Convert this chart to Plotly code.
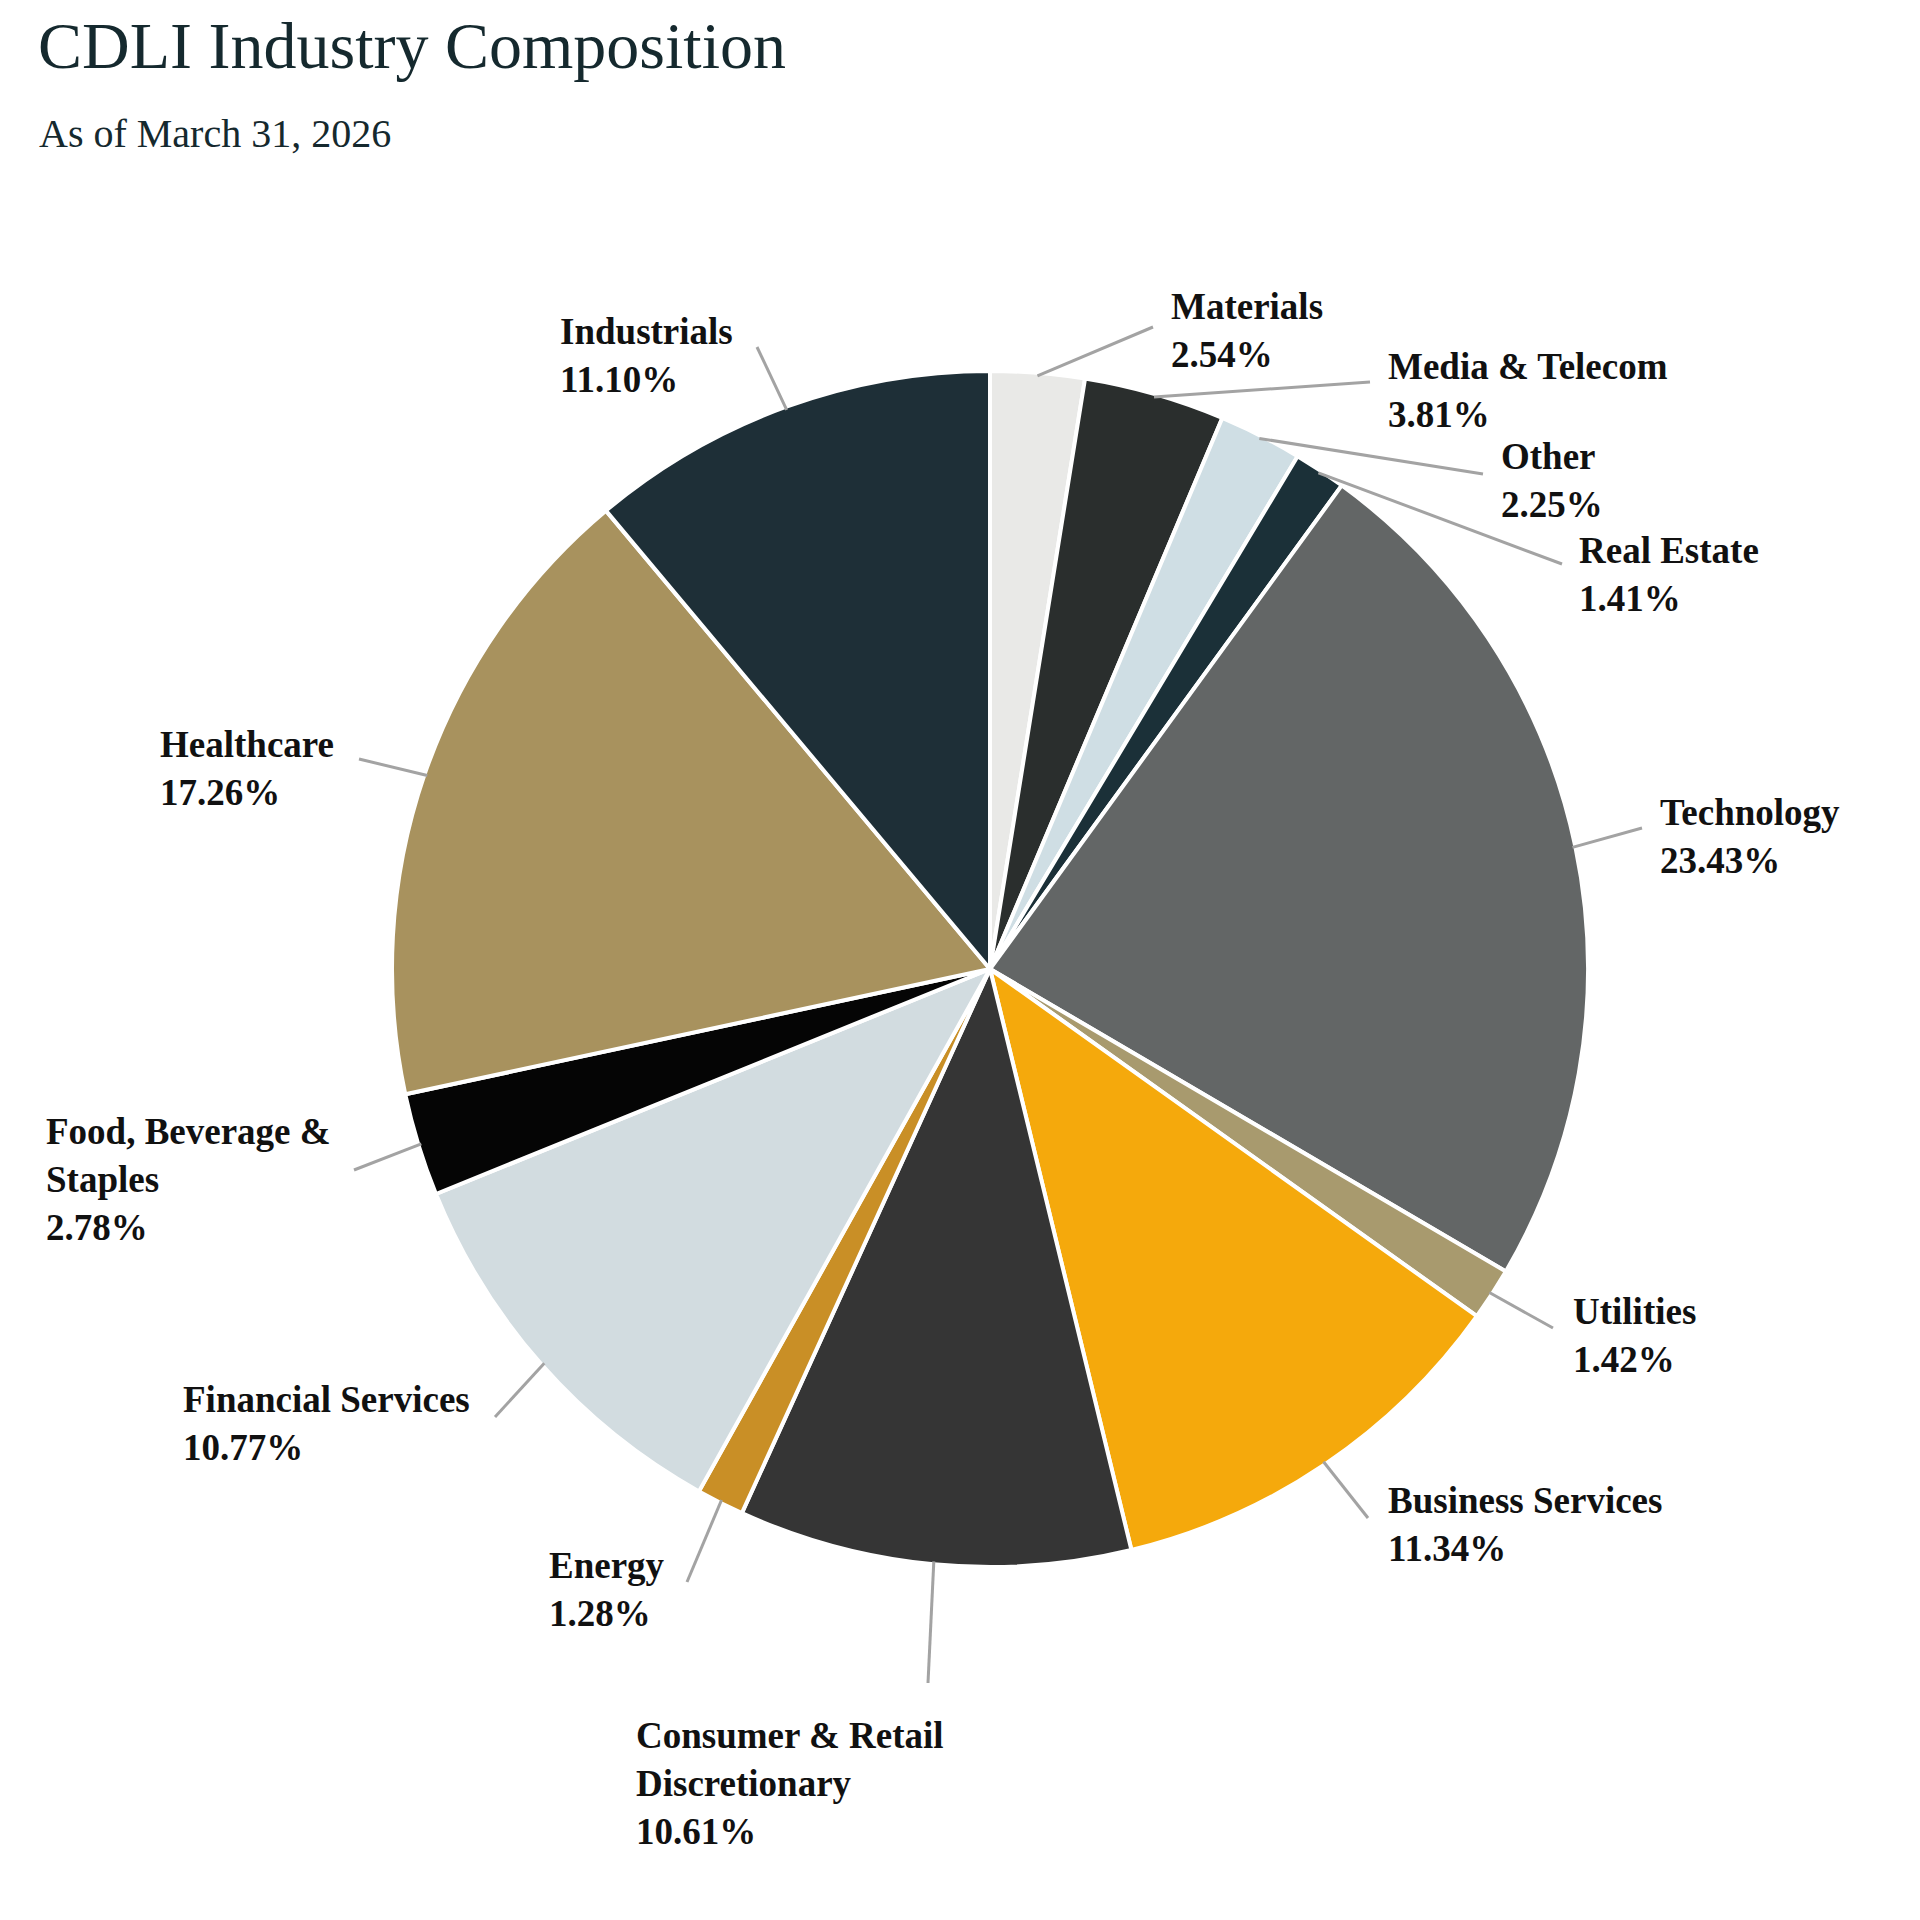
import math
import plotly.graph_objects as go

# ---------------- data ----------------
categories = ["Materials", "Media & Telecom", "Other", "Real Estate", "Technology",
              "Utilities", "Business Services", "Consumer & Retail Discretionary",
              "Energy", "Financial Services", "Food, Beverage & Staples",
              "Healthcare", "Industrials"]
values = [2.54, 3.81, 2.25, 1.41, 23.43, 1.42, 11.34, 10.61, 1.28, 10.77, 2.78, 17.26, 11.10]
display_names = ["Materials", "Media & Telecom", "Other", "Real Estate", "Technology",
                 "Utilities", "Business Services", "Consumer & Retail<br>Discretionary",
                 "Energy", "Financial Services", "Food, Beverage &<br>Staples",
                 "Healthcare", "Industrials"]
colors = ["#e9e9e7", "#2a2e2d", "#cfdee4", "#1b3038", "#636666",
          "#a89a6e", "#f5a90c", "#353535", "#c98f26", "#d2dce0",
          "#050505", "#a8925e", "#1e2f37"]

title_text = "CDLI Industry Composition"
subtitle_text = "As of March 31, 2026"

# ---------------- layout (pixels in a 1920x1920 page) ----------------
W = H = 1920
PIE_CX, PIE_CY, PIE_R = 990, 969, 598

# label text anchor (left x, vertical centre of block) and leader-line end, per category
label_pos = {
    "Materials": (1169, 330, 1153, 327),
    "Media & Telecom": (1386, 391, 1370, 382),
    "Other": (1499, 480, 1483, 474),
    "Real Estate": (1577, 574, 1562, 564),
    "Technology": (1658, 836, 1642, 828),
    "Utilities": (1571, 1335, 1553, 1328),
    "Business Services": (1386, 1524, 1368, 1518),
    "Consumer & Retail Discretionary": (634, 1783, 928, 1683),
    "Energy": (547, 1589, 687, 1582),
    "Financial Services": (181, 1423, 495, 1417),
    "Food, Beverage & Staples": (44, 1179, 354, 1170),
    "Healthcare": (158, 768, 359, 759),
    "Industrials": (558, 355, 757, 347),
}

def px(x):
    return x / W

def py(y):
    return 1 - y / H

fig = go.Figure(go.Pie(
    labels=categories,
    values=values,
    sort=False,
    direction="clockwise",
    rotation=0,
    marker=dict(colors=colors, line=dict(color="#ffffff", width=4)),
    textinfo="none",
    hoverinfo="label+percent",
    showlegend=False,
    domain=dict(x=[px(PIE_CX - PIE_R), px(PIE_CX + PIE_R)],
                y=[py(PIE_CY + PIE_R), py(PIE_CY - PIE_R)]),
))

total = sum(values)
annotations = []
shapes = []
cum = 0.0
for name, disp, v in zip(categories, display_names, values):
    mid = (cum + v / 2) / total * 2 * math.pi
    cum += v
    sx = PIE_CX + PIE_R * 0.995 * math.sin(mid)
    sy = PIE_CY - PIE_R * 0.995 * math.cos(mid)
    tx, ty, ex, ey = label_pos[name]
    shapes.append(dict(type="line", xref="paper", yref="paper",
                       x0=px(sx), y0=py(sy), x1=px(ex), y1=py(ey),
                       line=dict(color="#a3a3a3", width=3)))
    annotations.append(dict(
        xref="paper", yref="paper", x=px(tx), y=py(ty),
        xanchor="left", yanchor="middle", align="left", showarrow=False,
        text=f"<b>{disp}<br>{v:.2f}%</b>",
        font=dict(family="Liberation Serif", size=37, color="#111111"),
    ))

annotations.append(dict(
    xref="paper", yref="paper", x=px(36), y=py(46), xanchor="left", yanchor="middle",
    showarrow=False, text=title_text,
    font=dict(family="Liberation Serif", size=66, color="#15292e"),
))
annotations.append(dict(
    xref="paper", yref="paper", x=px(37), y=py(133), xanchor="left", yanchor="middle",
    showarrow=False, text=subtitle_text,
    font=dict(family="Liberation Serif", size=40, color="#15292e"),
))

fig.update_layout(
    width=W, height=H,
    margin=dict(l=0, r=0, t=0, b=0),
    paper_bgcolor="#ffffff",
    plot_bgcolor="#ffffff",
    annotations=annotations,
    shapes=shapes,
)

fig.write_html("out.html")
